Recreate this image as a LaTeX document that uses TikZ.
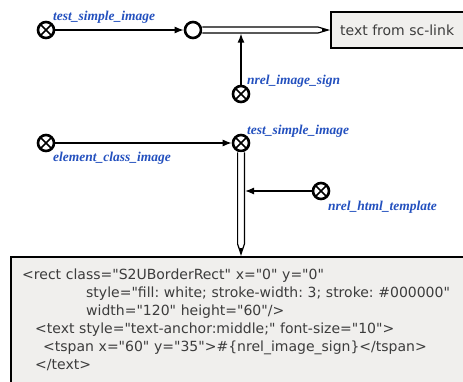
\documentclass[tikz,border=0pt]{standalone}
\usepackage{fontspec}
\setmainfont{Liberation Serif}
\newfontfamily\boxfont{DejaVu Sans}
\usetikzlibrary{arrows.meta,calc}
\definecolor{lblblue}{RGB}{35,80,190}
\definecolor{boxgray}{RGB}{240,239,237}
\definecolor{txtgray}{RGB}{60,60,60}
\tikzset{
  sccross/.style={circle, draw, line width=2.6pt, fill=white, minimum size=16pt, inner sep=0pt,
    path picture={\draw[line width=1.5pt] (path picture bounding box.south west) -- (path picture bounding box.north east)
      (path picture bounding box.north west) -- (path picture bounding box.south east);}},
  scopen/.style={circle, draw, line width=2.6pt, fill=white, minimum size=16pt, inner sep=0pt},
  lbl/.style={text=lblblue, font=\fontsize{13.5}{15}\selectfont\bfseries\itshape, inner sep=0pt, anchor=west},
  arr/.style={line width=1.3pt, -{Latex[length=9pt,width=7pt]}},
  pencil/.style={line width=1.2pt, fill=white, line join=miter},
  scbox/.style={draw, line width=2pt, fill=boxgray, text=txtgray, inner sep=0pt},
  boxtext/.style={text=txtgray, inner sep=0pt, font=\boxfont\fontsize{14}{17.9}\selectfont\frenchspacing},
}
\begin{document}
\begin{tikzpicture}[x=1pt,y=-1pt]
\useasboundingbox (0,0) rectangle (463,381);
% nodes
\node[sccross] (n1) at (46,30) {};
\node[scopen] (c1) at (193,30) {};
\node[scbox, anchor=west, minimum height=36pt, minimum width=150pt] (box1) at (330,30) {};
\node[boxtext, anchor=west] (t1) at (340,30) {text from sc-link};
\node[sccross] (n2) at (241,94) {};
\node[sccross] (n3) at (46,143) {};
\node[sccross] (n4) at (241,143) {};
\node[sccross] (n5) at (321,191) {};
\node[scbox, anchor=north west, minimum width=470pt, minimum height=140pt] (box2) at (10,256) {};
\node[boxtext, anchor=north west, text width=450pt, align=left] (t2b) at (22,269) {%
\hspace*{0pt}<rect class="S2UBorderRect" x="0" y="0"\\
\hspace*{64pt}style="fill: white; stroke-width: 3; stroke: \#000000"\\
\hspace*{64pt}width="120" height="60"/>\\
\hspace*{13pt}<text style="text-anchor:middle;" font-size="10">\\
\hspace*{21pt}<tspan x="60" y="35">\#\{nrel\_image\_sign\}</tspan>\\
\hspace*{13pt}</text>};
% labels
\node[lbl] (l1) at (53,17) {test\_simple\_image};
\node[lbl] (l2) at (247,81) {nrel\_image\_sign};
\node[lbl] (l3) at (53,158) {element\_class\_image};
\node[lbl] (l4) at (247,131) {test\_simple\_image};
\node[lbl] (l5) at (328,207) {nrel\_html\_template};
% connectors
\draw[arr] (n1) -- (c1);
\draw[arr] (n3) -- (n4);
% top double arrow
\draw[pencil] ($(c1.east)+(0,-3)$) -- ($(box1.west)+(-12,-3)$) -- ($(box1.west)+(-2,0)$)
  -- ($(box1.west)+(-12,3)$) -- ($(c1.east)+(0,3)$);
\fill ($(box1.west)+(-8,-1.6)$) -- ($(box1.west)+(-2,0)$) -- ($(box1.west)+(-8,1.6)$) -- cycle;
% vertical double arrow
\path (n4.south) coordinate (vt) (box2.north -| n4) coordinate (vb);
\draw[pencil] ($(vt)+(-3.4,0)$) -- ($(vb)+(-3.4,-12)$) -- ($(vb)+(0,-2)$) -- ($(vb)+(3.4,-12)$) -- ($(vt)+(3.4,0)$);
\fill ($(vb)+(-1.6,-8)$) -- ($(vb)+(0,-2)$) -- ($(vb)+(1.6,-8)$) -- cycle;
% arrows into double arrows
\coordinate (t2) at ($(n2 |- c1)+(0,3.6)$);
\draw[arr] (n2) -- (t2);
\coordinate (t5) at ($(n4 |- n5)+(4,0)$);
\draw[arr] (n5) -- (t5);
\end{tikzpicture}
\end{document}
